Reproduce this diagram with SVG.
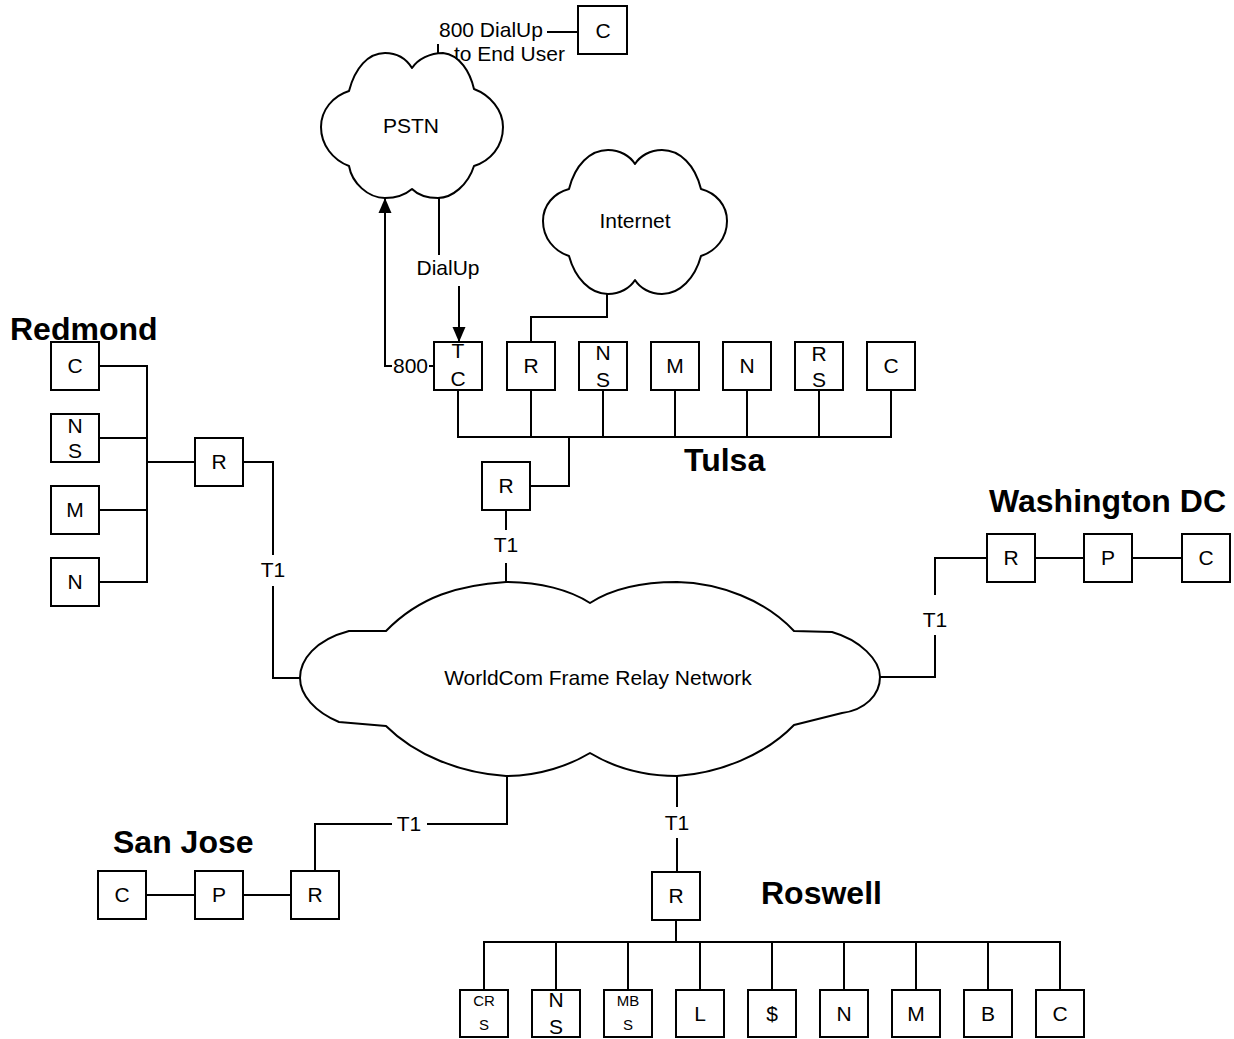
<svg xmlns="http://www.w3.org/2000/svg" width="1234" height="1039" viewBox="0 0 1234 1039">
<defs>
<style>
.bx{fill:#fff;stroke:#000;stroke-width:2}
.ln{fill:none;stroke:#000;stroke-width:2}
.cl{fill:#fff;stroke:#000;stroke-width:2;stroke-linejoin:round}
text{font-family:"Liberation Sans",Arial,sans-serif;font-size:21px;fill:#000}
.m{text-anchor:middle}
.s{font-size:15px}
.ti{font-weight:bold;font-size:32px}
</style>
<marker id="arr" viewBox="0 0 15 14" refX="15" refY="7" markerWidth="15" markerHeight="14" orient="auto" markerUnits="userSpaceOnUse">
<path d="M0,0.5 L15,7 L0,13.5 Z" fill="#000"/>
</marker>
</defs>
<rect width="1234" height="1039" fill="#fff"/>

<g id="connectors">
<line class="ln" x1="438" y1="44" x2="438" y2="56"/>
<line class="ln" x1="547" y1="32" x2="578" y2="32"/>
<polyline class="ln" points="392,366 385,366 385,198" marker-end="url(#arr)"/>
<line class="ln" x1="429" y1="366" x2="434" y2="366"/>
<line class="ln" x1="439" y1="197" x2="439" y2="255"/>
<line class="ln" x1="459" y1="286" x2="459" y2="342" marker-end="url(#arr)"/>
<polyline class="ln" points="607,293 607,317 531,317 531,342"/>
<polyline class="ln" points="458,390 458,437 891,437 891,390"/>
<line class="ln" x1="531" y1="390" x2="531" y2="437"/>
<line class="ln" x1="603" y1="390" x2="603" y2="437"/>
<line class="ln" x1="675" y1="390" x2="675" y2="437"/>
<line class="ln" x1="747" y1="390" x2="747" y2="437"/>
<line class="ln" x1="819" y1="390" x2="819" y2="437"/>
<polyline class="ln" points="569,437 569,486 530,486"/>
<line class="ln" x1="506" y1="510" x2="506" y2="530"/>
<line class="ln" x1="506" y1="563" x2="506" y2="583"/>
<polyline class="ln" points="99,366 147,366 147,582 99,582"/>
<line class="ln" x1="99" y1="438" x2="147" y2="438"/>
<line class="ln" x1="99" y1="510" x2="147" y2="510"/>
<line class="ln" x1="147" y1="462" x2="195" y2="462"/>
<polyline class="ln" points="243,462 273,462 273,555"/>
<polyline class="ln" points="273,586 273,678 300,678"/>
<polyline class="ln" points="987,558 935,558 935,595"/>
<polyline class="ln" points="935,635 935,677 880,677"/>
<line class="ln" x1="1035" y1="558" x2="1084" y2="558"/>
<line class="ln" x1="1132" y1="558" x2="1182" y2="558"/>
<polyline class="ln" points="315,871 315,824 392,824"/>
<polyline class="ln" points="427,824 507,824 507,775"/>
<line class="ln" x1="146" y1="895" x2="195" y2="895"/>
<line class="ln" x1="243" y1="895" x2="291" y2="895"/>
<line class="ln" x1="677" y1="775" x2="677" y2="807"/>
<line class="ln" x1="677" y1="838" x2="677" y2="872"/>
<line class="ln" x1="676" y1="920" x2="676" y2="942"/>
<polyline class="ln" points="484,990 484,942 1060,942 1060,990"/>
<line class="ln" x1="556" y1="942" x2="556" y2="990"/>
<line class="ln" x1="628" y1="942" x2="628" y2="990"/>
<line class="ln" x1="700" y1="942" x2="700" y2="990"/>
<line class="ln" x1="772" y1="942" x2="772" y2="990"/>
<line class="ln" x1="844" y1="942" x2="844" y2="990"/>
<line class="ln" x1="916" y1="942" x2="916" y2="990"/>
<line class="ln" x1="988" y1="942" x2="988" y2="990"/>
<text x="439" y="37">800 DialUp</text>
<text x="454" y="61">to End User</text>
<text x="393" y="373">800</text>
<text class="m" x="448" y="275">DialUp</text>
<text class="m" x="506" y="552">T1</text>
<text class="m" x="273" y="577">T1</text>
<text class="m" x="935" y="627">T1</text>
<text class="m" x="409" y="831">T1</text>
<text class="m" x="677" y="830">T1</text>
</g>

<g id="pstn">
<path class="cl" d="M321,127 C321,110 333,96 349,91 C355,68 368,53 385,53 C398,53 407,60 412,68 C418,59 430,53 443,53 C460,55 470,72 474,89 C490,95 503,110 503,127 C503,147 490,161 474,166 C468,185 452,198 438,198 C426,198 417,194 412,189 C405,195 395,198 385,198 C368,198 352,183 349,166 C333,160 321,145 321,127 Z"/>
<text class="m" x="411" y="133">PSTN</text>
</g>

<g id="internet">
<path class="cl" d="M543,221 C543,205 554,193 569,189 C575,165 590,150 608,150 C620,150 630,156 635,164 C640,156 650,150 662,150 C680,150 695,165 701,189 C716,193 727,205 727,221 C727,238 716,251 701,256 C695,278 680,294 662,294 C650,294 640,288 635,280 C630,288 620,294 608,294 C590,294 575,278 569,256 C554,251 543,238 543,221 Z"/>
<text class="m" x="635" y="228">Internet</text>
</g>

<g id="worldcom">
<path class="cl" d="M300,678 C300,660 315,640 349,631 L386,631 C420,596 460,585 506,582 C540,582 570,590 590,603 C610,590 640,582 677,582 C720,583 765,600 794,631 L832,632 C860,640 880,660 880,677 C880,695 865,710 842,713 L794,725 C765,755 720,773 677,776 C640,776 610,765 590,753 C570,765 540,776 506,776 C460,773 415,755 386,726 L339,722 C315,712 300,695 300,678 Z"/>
<text class="m" x="598" y="685">WorldCom Frame Relay Network</text>
</g>

<g id="enduser-c">
<rect class="bx" x="578" y="6" width="49" height="48"/>
<text class="m" x="603" y="38">C</text>
</g>

<g id="tulsa">
<text class="ti" x="684" y="471">Tulsa</text>
<g id="tulsa-tc"><rect class="bx" x="434" y="342" width="48" height="48"/><text class="m" x="458" y="358">T</text><text class="m" x="458" y="386">C</text></g>
<g id="tulsa-r1"><rect class="bx" x="507" y="342" width="48" height="48"/><text class="m" x="531" y="373">R</text></g>
<g id="tulsa-ns"><rect class="bx" x="579" y="342" width="48" height="48"/><text class="m" x="603" y="360">N</text><text class="m" x="603" y="387">S</text></g>
<g id="tulsa-m"><rect class="bx" x="651" y="342" width="48" height="48"/><text class="m" x="675" y="373">M</text></g>
<g id="tulsa-n"><rect class="bx" x="723" y="342" width="48" height="48"/><text class="m" x="747" y="373">N</text></g>
<g id="tulsa-rs"><rect class="bx" x="795" y="342" width="48" height="48"/><text class="m" x="819" y="361">R</text><text class="m" x="819" y="387">S</text></g>
<g id="tulsa-c"><rect class="bx" x="867" y="342" width="48" height="48"/><text class="m" x="891" y="373">C</text></g>
<g id="tulsa-r2"><rect class="bx" x="482" y="462" width="48" height="48"/><text class="m" x="506" y="493">R</text></g>
</g>

<g id="redmond">
<text class="ti" x="10" y="340">Redmond</text>
<g id="redmond-c"><rect class="bx" x="51" y="342" width="48" height="48"/><text class="m" x="75" y="373">C</text></g>
<g id="redmond-ns"><rect class="bx" x="51" y="414" width="48" height="48"/><text class="m" x="75" y="433">N</text><text class="m" x="75" y="458">S</text></g>
<g id="redmond-m"><rect class="bx" x="51" y="486" width="48" height="48"/><text class="m" x="75" y="517">M</text></g>
<g id="redmond-n"><rect class="bx" x="51" y="558" width="48" height="48"/><text class="m" x="75" y="589">N</text></g>
<g id="redmond-r"><rect class="bx" x="195" y="438" width="48" height="48"/><text class="m" x="219" y="469">R</text></g>
</g>

<g id="washington">
<text class="ti" x="989" y="512">Washington DC</text>
<g id="wdc-r"><rect class="bx" x="987" y="534" width="48" height="48"/><text class="m" x="1011" y="565">R</text></g>
<g id="wdc-p"><rect class="bx" x="1084" y="534" width="48" height="48"/><text class="m" x="1108" y="565">P</text></g>
<g id="wdc-c"><rect class="bx" x="1182" y="534" width="48" height="48"/><text class="m" x="1206" y="565">C</text></g>
</g>

<g id="sanjose">
<text class="ti" x="113" y="853">San Jose</text>
<g id="sj-c"><rect class="bx" x="98" y="871" width="48" height="48"/><text class="m" x="122" y="902">C</text></g>
<g id="sj-p"><rect class="bx" x="195" y="871" width="48" height="48"/><text class="m" x="219" y="902">P</text></g>
<g id="sj-r"><rect class="bx" x="291" y="871" width="48" height="48"/><text class="m" x="315" y="902">R</text></g>
</g>

<g id="roswell">
<text class="ti" x="761" y="904">Roswell</text>
<g id="ros-r"><rect class="bx" x="652" y="872" width="48" height="48"/><text class="m" x="676" y="903">R</text></g>
<g id="ros-crs"><rect class="bx" x="460" y="990" width="48" height="47"/><text class="m s" x="484" y="1006">CR</text><text class="m s" x="484" y="1030">S</text></g>
<g id="ros-ns"><rect class="bx" x="532" y="990" width="48" height="47"/><text class="m" x="556" y="1007">N</text><text class="m" x="556" y="1034">S</text></g>
<g id="ros-mbs"><rect class="bx" x="604" y="990" width="48" height="47"/><text class="m s" x="628" y="1006">MB</text><text class="m s" x="628" y="1030">S</text></g>
<g id="ros-l"><rect class="bx" x="676" y="990" width="48" height="47"/><text class="m" x="700" y="1021">L</text></g>
<g id="ros-dollar"><rect class="bx" x="748" y="990" width="48" height="47"/><text class="m" x="772" y="1021">$</text></g>
<g id="ros-n"><rect class="bx" x="820" y="990" width="48" height="47"/><text class="m" x="844" y="1021">N</text></g>
<g id="ros-m"><rect class="bx" x="892" y="990" width="48" height="47"/><text class="m" x="916" y="1021">M</text></g>
<g id="ros-b"><rect class="bx" x="964" y="990" width="48" height="47"/><text class="m" x="988" y="1021">B</text></g>
<g id="ros-c"><rect class="bx" x="1036" y="990" width="48" height="47"/><text class="m" x="1060" y="1021">C</text></g>
</g>
</svg>
